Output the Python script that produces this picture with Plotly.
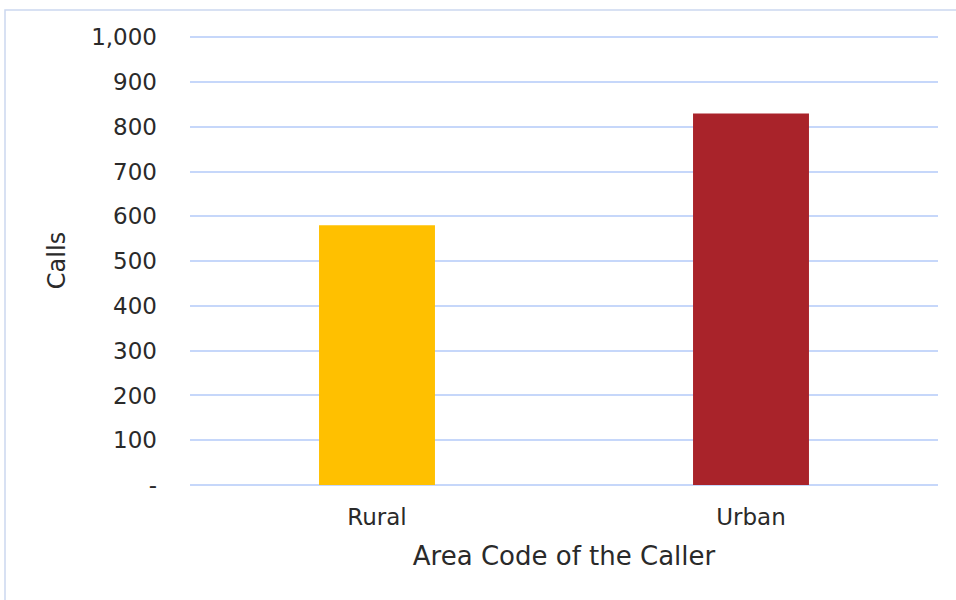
import plotly.graph_objects as go

categories = ["Rural", "Urban"]
calls = [580, 830]
bar_colors = ["#FFC000", "#A9232A"]
tick_vals = [0, 100, 200, 300, 400, 500, 600, 700, 800, 900, 1000]
tick_text = ["-", "100", "200", "300", "400", "500", "600", "700", "800", "900", "1,000"]

W, H = 956, 600
L, R, T, B = 190, 18, 36, 115

fig = go.Figure(go.Bar(
    x=categories, y=calls, marker=dict(color=bar_colors, line=dict(width=0)),
    width=0.31,
))

font = dict(family="DejaVu Sans, Verdana, sans-serif", size=23, color="#2A2A2A")
grid = "#C6D7FA"
fig.update_layout(
    width=W, height=H,
    margin=dict(l=L, r=R, t=T, b=B),
    paper_bgcolor="white", plot_bgcolor="white",
    font=font, showlegend=False,
    xaxis=dict(
        showgrid=False, showline=False, ticks="", ticklabelstandoff=16,
        title=dict(text="Area Code of the Caller", font=dict(size=26), standoff=17),
        tickfont=dict(size=23),
    ),
    yaxis=dict(
        range=[0, 1003], tickvals=tick_vals, ticktext=tick_text,
        showgrid=True, gridcolor=grid, gridwidth=1.5,
        zeroline=True, zerolinecolor=grid, zerolinewidth=1.5,
        showline=False, ticks="", ticklabelstandoff=32,
        title=dict(text="Calls", font=dict(size=24), standoff=18),
        tickfont=dict(size=23),
    ),
)

pw = W - L - R
ph = H - T - B
fig.add_shape(type="rect", xref="paper", yref="paper",
              x0=(5 - L) / pw, x1=(W + 20 - L) / pw,
              y0=-(H + 20 - T - ph) / ph, y1=(T + ph - 10) / ph,
              line=dict(color="#CCD8F0", width=1.5), fillcolor="rgba(0,0,0,0)", layer="below")

fig.write_html("out.html", config={"displayModeBar": False},
               post_script="document.body.style.margin='0';")
